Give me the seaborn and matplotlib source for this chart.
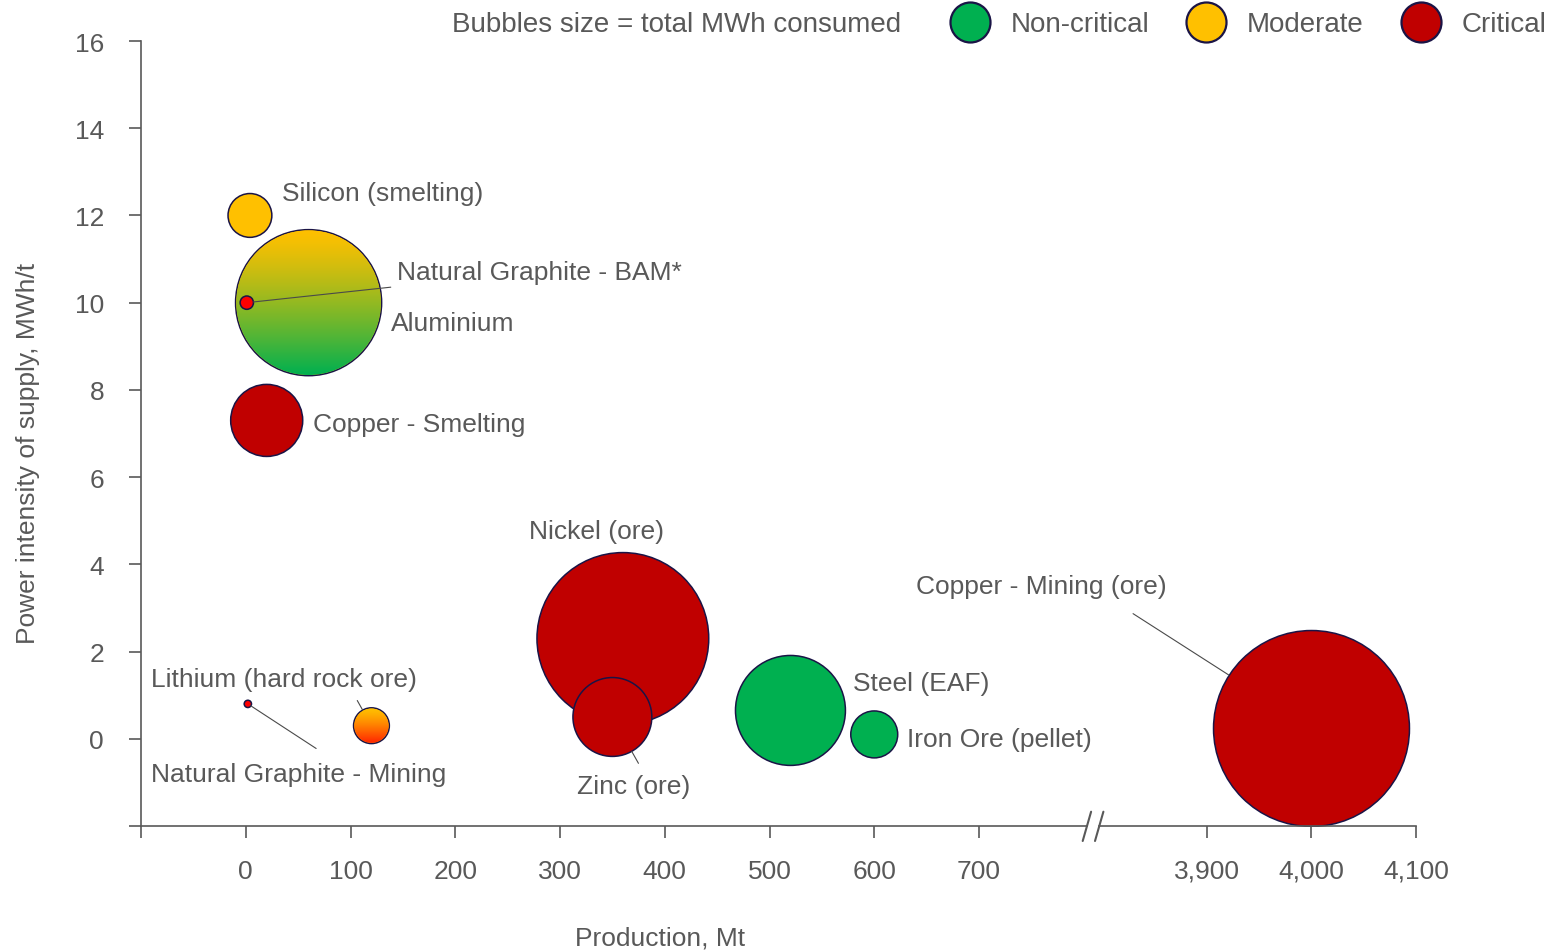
import numpy as np
import pandas as pd
import matplotlib
matplotlib.use("Agg")
import matplotlib.pyplot as plt
import seaborn as sns
from matplotlib.lines import Line2D
from matplotlib.patches import Circle
from matplotlib.transforms import IdentityTransform
from matplotlib.colors import to_rgb

# ---------------------------------------------------------------- data
minerals = [
    "Aluminium", "Silicon (smelting)", "Copper - Smelting", "Nickel (ore)",
    "Zinc (ore)", "Steel (EAF)", "Iron Ore (pellet)", "Lithium (hard rock ore)",
    "Natural Graphite - BAM*", "Natural Graphite - Mining", "Copper - Mining (ore)",
]
production_mt = [60, 4, 20, 360, 350, 520, 600, 120, 1, 2, 4000]
intensity_mwh_t = [10.0, 12.0, 7.3, 2.3, 0.5, 0.65, 0.1, 0.3, 10.0, 0.8, 0.25]
consumption_twh = [600, 54, 146, 830, 175, 340, 62, 36, 5, 1.5, 1080]
criticality = [
    "Moderate", "Moderate", "Critical", "Critical", "Critical", "Non-critical",
    "Non-critical", "Moderate", "Critical", "Critical", "Critical",
]
legend_levels = ["Non-critical", "Moderate", "Critical"]
y_ticks = [-2, 0, 2, 4, 6, 8, 10, 12, 14, 16]
x_ticks_low = [-100, 0, 100, 200, 300, 400, 500, 600, 700]
x_ticks_high = [3900, 4000, 4100]

df = pd.DataFrame({
    "mineral": minerals,
    "production_mt": production_mt,
    "intensity_mwh_t": intensity_mwh_t,
    "consumption_twh": consumption_twh,
    "criticality": criticality,
})

# --------------------------------------------------------------- style
GREEN, YELLOW, RED = "#00B050", "#FFC000", "#C00000"
BRIGHT_RED = "#FF0000"
LEVEL_COLORS = {"Non-critical": GREEN, "Moderate": YELLOW, "Critical": RED}
GRADIENTS = {
    "Aluminium": (YELLOW, GREEN),
    "Lithium (hard rock ore)": ("#FFC000", "#FF2400"),
}
BRIGHT = {"Natural Graphite - BAM*", "Natural Graphite - Mining"}
EDGE = "#1A1446"
TEXT = "#595959"
AXIS = "#595959"
LEADER = "#4A4A4A"
FS = 19
FS_LEG = 20
DROP = 2.5  # visual centring of text lines, in pixels

W, H = 1552, 953
PX_PER_MT = 1.0475
S_MAX_VALUE = 1200.0
S_MAX_PT2 = 18.43 * S_MAX_VALUE

fill_palette = {}
for m, c in zip(minerals, criticality):
    fill_palette[m] = BRIGHT_RED if m in BRIGHT else LEVEL_COLORS[c]

sns.set_theme(style="white")
plt.rcParams["font.family"] = ["Liberation Sans", "DejaVu Sans"]

fig = plt.figure(figsize=(W / 100, H / 100), dpi=100)


def px_box(left, top, right, bottom):
    return [left / W, 1 - bottom / H, (right - left) / W, (bottom - top) / H]


ax_l = fig.add_axes(px_box(141, 42, 1087, 827))
ax_r = fig.add_axes(px_box(1099, 42, 1416, 827))

XLIM_L = (-100, -100 + 946 / PX_PER_MT)
XLIM_R = (4100 - 317 / PX_PER_MT, 4100)
YLIM = (-2, 16)

is_high = df["production_mt"] > 1000
is_dot = df["mineral"].isin(BRIGHT)

scatter_kw = dict(
    x="production_mt", y="intensity_mwh_t", hue="mineral", palette=fill_palette,
    size="consumption_twh", sizes=(0, S_MAX_PT2), size_norm=(0, S_MAX_VALUE),
    edgecolor=EDGE, linewidth=1.1, legend=False,
)
sns.scatterplot(data=df[~is_high & ~is_dot], ax=ax_l, zorder=1, **scatter_kw)
sns.scatterplot(data=df[is_high], ax=ax_r, zorder=1, **scatter_kw)

for ax, xl in ((ax_l, XLIM_L), (ax_r, XLIM_R)):
    ax.set_xlim(*xl)
    ax.set_ylim(*YLIM)
    ax.set_xlabel("")
    ax.set_ylabel("")


def gradient_fill(ax, x, y, value, top, bottom):
    s = value / S_MAX_VALUE * S_MAX_PT2
    cx, cy = ax.transData.transform((x, y))
    r = np.sqrt(s) / 2 * fig.dpi / 72 - 0.7
    inv = ax.transData.inverted()
    x0, y0 = inv.transform((cx - r, cy - r))
    x1, y1 = inv.transform((cx + r, cy + r))
    t = (np.linspace(0, 1, 256) ** 1.25)[:, None, None]
    img = (1 - t) * np.array(to_rgb(top)) + t * np.array(to_rgb(bottom))
    im = ax.imshow(img, extent=(x0, x1, y0, y1), origin="upper", aspect="auto",
                   interpolation="bilinear", zorder=1.5)
    im.set_clip_path(Circle((cx, cy), r, transform=IdentityTransform()))


for _, row in df[df["mineral"].isin(GRADIENTS)].iterrows():
    top, bottom = GRADIENTS[row["mineral"]]
    gradient_fill(ax_l, row["production_mt"], row["intensity_mwh_t"],
                  row["consumption_twh"], top, bottom)

sns.scatterplot(data=df[is_dot], ax=ax_l, zorder=3, **scatter_kw)

for ax, xl in ((ax_l, XLIM_L), (ax_r, XLIM_R)):
    ax.set_xlim(*xl)
    ax.set_ylim(*YLIM)
    ax.set_xlabel("")
    ax.set_ylabel("")
    ax.grid(False)
    for side in ("top", "right"):
        ax.spines[side].set_visible(False)
    for side in ("left", "bottom"):
        ax.spines[side].set_color(AXIS)
        ax.spines[side].set_linewidth(1.2)
    ax.tick_params(axis="both", direction="out", length=8.6, width=1.2,
                   color=AXIS, labelsize=FS, labelcolor=TEXT)
    ax.tick_params(axis="x", pad=15, bottom=True)

# y axis on the left panel only
ax_l.set_yticks(y_ticks)
ax_l.set_yticklabels(["" if v < 0 else f"{v:d}" for v in y_ticks])
ax_l.tick_params(axis="y", pad=18, left=True)
ax_r.spines["left"].set_visible(False)
ax_r.set_yticks([])

ax_l.set_xticks(x_ticks_low)
ax_l.set_xticklabels(["" if v < 0 else f"{v:,}" for v in x_ticks_low])
ax_r.set_xticks(x_ticks_high)
ax_r.set_xticklabels([f"{v:,}" for v in x_ticks_high])

# axis break marks
for xc in (1086.9, 1099.2):
    fig.add_artist(Line2D([(xc - 4.2) / W, (xc + 4.2) / W],
                          [1 - 842 / H, 1 - 812.7 / H],
                          transform=fig.transFigure, color=AXIS, lw=1.5))

# bubble labels: offsets in pixels from the bubble centre to the text anchor
LABELS = {
    "Silicon (smelting)": dict(off=(32, 24.5)),
    "Aluminium": dict(off=(82, -18)),
    "Natural Graphite - BAM*": dict(off=(150, 33),
                                    leader=dict(relpos=(0.077, 0), shrinkA=2, shrinkB=4.8)),
    "Copper - Smelting": dict(off=(46, -1.5)),
    "Nickel (ore)": dict(off=(-26.6, 110), ha="center"),
    "Copper - Mining (ore)": dict(off=(-395, 144),
                                  leader=dict(relpos=(0.77, 0), shrinkA=16, shrinkB=70.6)),
    "Lithium (hard rock ore)": dict(off=(-220.7, 49),
                                    leader=dict(relpos=(0.757, 0), shrinkA=5, shrinkB=13)),
    "Steel (EAF)": dict(off=(63, 29.6)),
    "Iron Ore (pellet)": dict(off=(32.5, -2.4)),
    "Natural Graphite - Mining": dict(off=(-97, -68),
                                      leader=dict(relpos=(0.632, 1), shrinkA=14, shrinkB=2.5)),
    "Zinc (ore)": dict(off=(-35.6, -67),
                       leader=dict(relpos=(0.6, 1), shrinkA=6.5, shrinkB=28.4)),
}

for _, row in df.iterrows():
    spec = LABELS[row["mineral"]]
    ax = ax_r if row["production_mt"] > 1000 else ax_l
    arrow = None
    if "leader" in spec:
        arrow = dict(arrowstyle="-", color=LEADER, lw=0.8, **spec["leader"])
    dx, dy = spec["off"]
    ax.annotate(row["mineral"], xy=(row["production_mt"], row["intensity_mwh_t"]),
                xytext=(dx, dy - DROP), textcoords="offset pixels",
                ha=spec.get("ha", "left"), va="center", fontsize=FS, color=TEXT,
                arrowprops=arrow, zorder=4, annotation_clip=False)

# axis titles
fig.text(28 / W, 1 - 453.5 / H, "Power intensity of supply, MWh/t", rotation=90,
         ha="center", va="center", fontsize=FS, color=TEXT)
fig.text(660 / W, 1 - 939 / H, "Production, Mt", ha="center", va="center",
         fontsize=FS, color=TEXT)

# legend
LEG_Y = 1 - (23 + DROP) / H
fig.text(452 / W, LEG_Y, "Bubbles size = total MWh consumed", ha="left",
         va="center", fontsize=FS_LEG, color=TEXT)
handles = [
    Line2D([], [], ls="none", marker="o", markersize=28.8,
           markerfacecolor=LEVEL_COLORS[lv], markeredgecolor=EDGE, markeredgewidth=1.6)
    for lv in legend_levels
]
fig.legend(handles, legend_levels, loc="center left",
           bbox_to_anchor=(950 / W, LEG_Y), ncol=3, frameon=False,
           fontsize=FS_LEG, labelcolor=TEXT, handlelength=1.44, handletextpad=0.75,
           columnspacing=1.32, borderpad=0, borderaxespad=0)

fig.savefig("out.png", dpi=100)
